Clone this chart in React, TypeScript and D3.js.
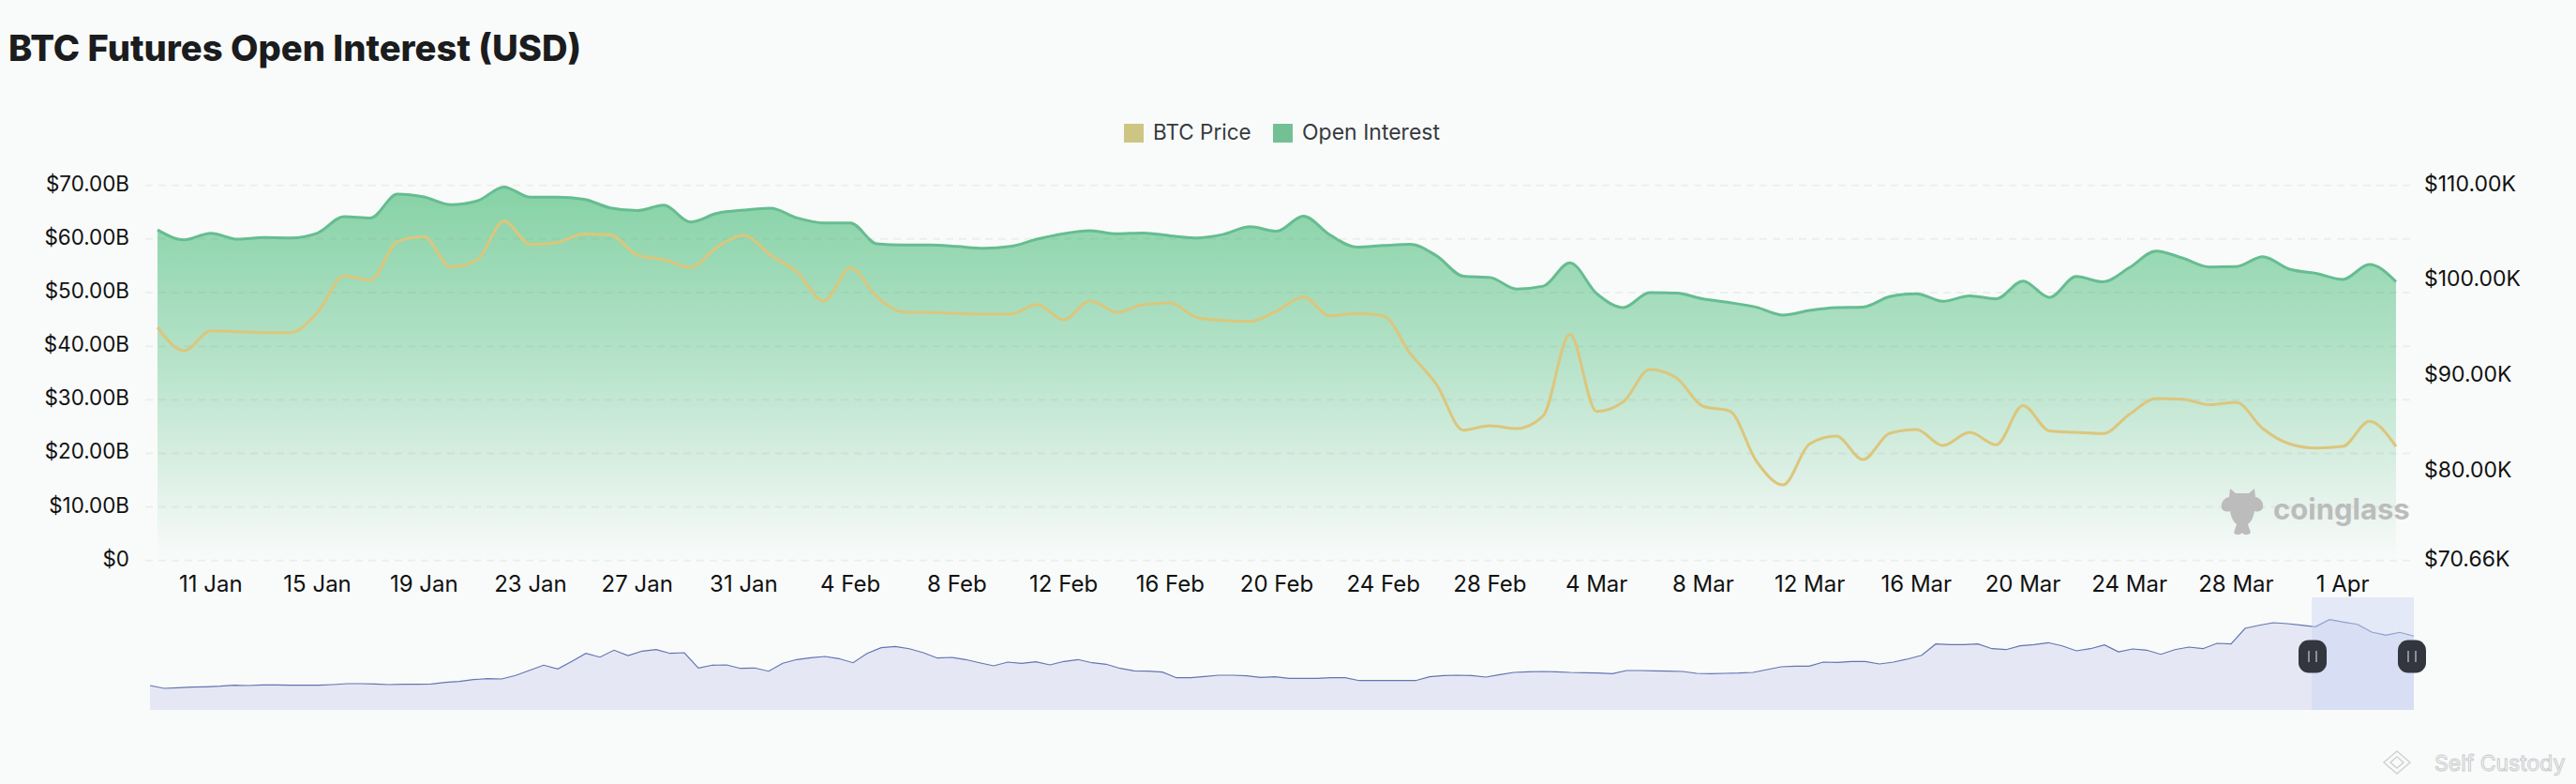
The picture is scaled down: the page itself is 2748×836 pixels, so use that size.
import * as d3 from "d3";
import React from "react";

const WIDTH = 2748;
const HEIGHT = 836;

// daily open interest in $B, 9 Jan to 3 Apr
const openInterest = [
  61.7, 59.85, 61.07, 59.96, 60.26, 60.2, 61.1, 64.17, 63.93, 68.37,
  67.84, 66.4, 67.1, 69.7, 67.8, 67.8, 67.4, 65.8, 65.3, 66.3,
  63.17, 64.8, 65.4, 65.74, 63.93, 63.0, 63.0, 59.09, 58.86, 58.86,
  58.6, 58.27, 58.6, 59.96, 61.0, 61.54, 60.96, 61.13, 60.6, 60.2,
  60.87, 62.27, 61.46, 64.26, 60.76, 58.48, 58.77, 59.0, 56.85, 53.06,
  52.82, 50.67, 51.2, 55.57, 49.85, 47.2, 50.0, 49.9, 48.8, 48.13,
  47.26, 45.8, 46.67, 47.2, 47.3, 49.24, 49.8, 48.37, 49.4, 48.83,
  52.16, 49.1, 53.0, 52.0, 54.67, 57.76, 56.42, 54.78, 54.84, 56.7,
  54.38, 53.6, 52.45, 55.25, 52.04,
];

// daily BTC price in $K
const btcPrice = [
  95.1, 92.66, 94.75, 94.66, 94.56, 94.56, 96.66, 100.5, 100.07, 104.1,
  104.6, 101.44, 102.2, 106.26, 103.8, 104.0, 104.9, 104.8, 102.7, 102.2,
  101.4, 103.54, 104.75, 102.7, 100.9, 97.87, 101.34, 98.3, 96.72, 96.69,
  96.56, 96.5, 96.5, 97.5, 95.9, 97.9, 96.7, 97.5, 97.67, 96.16,
  95.84, 95.74, 96.83, 98.3, 96.33, 96.56, 96.33, 92.4, 89.1, 84.33,
  84.8, 84.5, 85.84, 94.37, 86.3, 87.3, 90.7, 89.8, 86.83, 86.33,
  81.08, 78.59, 82.9, 83.7, 81.25, 84.0, 84.4, 82.72, 84.1, 82.8,
  86.9, 84.26, 84.1, 83.97, 86.0, 87.64, 87.57, 87.0, 87.25, 84.5,
  82.9, 82.46, 82.62, 85.25, 82.62,
];

// full history shown in the zoom strip, $B
const historyOI = [
  18.2, 16.1, 16.6, 17.0, 17.3, 17.7, 18.4, 18.2, 18.7, 18.7, 18.4, 18.4, 18.4, 18.9, 19.6, 19.6,
  19.4, 18.9, 19.1, 19.1, 19.4, 20.5, 21.2, 22.6, 23.3, 23.1, 25.7, 29.6, 33.4, 30.6, 36.2, 42.2,
  39.4, 44.6, 40.6, 43.9, 45.0, 42.2, 42.7, 31.3, 33.4, 33.6, 31.0, 31.3, 28.9, 34.8, 37.6, 39.0,
  39.9, 38.3, 35.2, 42.2, 46.4, 47.4, 45.7, 42.7, 38.7, 39.2, 37.6, 35.2, 32.9, 35.7, 34.8, 35.9,
  33.6, 36.2, 37.6, 35.2, 34.1, 31.0, 29.2, 28.9, 28.2, 24.0, 24.0, 25.0, 25.9, 25.9, 25.4, 24.3,
  24.7, 23.6, 23.6, 23.6, 24.0, 24.0, 21.9, 21.9, 21.9, 21.9, 21.9, 24.7, 25.7, 25.9, 25.7, 24.5,
  26.4, 28.0, 28.5, 28.7, 28.5, 28.0, 27.8, 27.5, 27.1, 29.4, 29.4, 29.2, 28.9, 28.7, 27.3, 27.1,
  27.3, 27.5, 28.0, 30.1, 32.2, 32.7, 32.7, 35.7, 35.5, 36.2, 36.2, 34.3, 35.7, 38.0, 40.8, 49.2,
  48.8, 48.8, 49.2, 45.7, 45.0, 47.8, 48.8, 50.2, 47.8, 44.1, 45.7, 48.5, 43.4, 45.5, 44.6, 41.5,
  45.0, 46.9, 45.7, 49.7, 49.2, 60.9, 63.2, 65.1, 64.4, 63.2, 62.1, 67.4, 65.6, 63.9, 58.1, 55.8,
  57.9, 55.1,
];

const leftTicks = [0, 10, 20, 30, 40, 50, 60, 70];
const rightTicks = [70.66, 80, 90, 100, 110];
const seriesNames = ["BTC Price", "Open Interest"];

const FONT = "Inter, sans-serif";
const BG = "#f9fbfa";

const dates = d3.utcDay.range(new Date(Date.UTC(2025, 0, 9)), new Date(Date.UTC(2025, 3, 4)));
const tickDates = dates.filter((_, i) => i >= 2 && (i - 2) % 4 === 0);
const fmtDate = d3.utcFormat("%-d %b");

const x = d3
  .scaleUtc()
  .domain([dates[0], dates[dates.length - 1]])
  .range([168, 2556]);
const yOI = d3.scaleLinear().domain([0, 70]).range([597.7, 197.7]);
const yPrice = d3.scaleLinear().domain([70.66, 110]).range([597.7, 197.7]);

const miniX = d3.scaleLinear().domain([0, historyOI.length - 1]).range([160, 2575]);
const miniY = d3.scaleLinear().domain([0, 70]).range([757, 657]);

const oiArea = d3
  .area<number>()
  .x((_, i) => x(dates[i]))
  .y0(yOI(0))
  .y1((d) => yOI(d))
  .curve(d3.curveMonotoneX);
const oiLine = d3
  .line<number>()
  .x((_, i) => x(dates[i]))
  .y((d) => yOI(d))
  .curve(d3.curveMonotoneX);
const priceLine = d3
  .line<number>()
  .x((_, i) => x(dates[i]))
  .y((d) => yPrice(d))
  .curve(d3.curveMonotoneX);
const miniArea = d3
  .area<number>()
  .x((_, i) => miniX(i))
  .y0(miniY(0))
  .y1((d) => miniY(d));
const miniLine = d3
  .line<number>()
  .x((_, i) => miniX(i))
  .y((d) => miniY(d));

function Handle({ cx }: { cx: number }) {
  return (
    <g transform={`translate(${cx},700)`}>
      <rect fill="#33363f" height={35} rx={11} width={30} x={-15} y={-17.5} />
      <rect fill="#8a8f99" height={12} width={2} x={-5} y={-6} />
      <rect fill="#8a8f99" height={12} width={2} x={3} y={-6} />
    </g>
  );
}

export default function App() {
  const windowStart = 2466;
  const windowEnd = 2575;

  return (
    <svg
      height={HEIGHT}
      style={{ left: 0, position: "absolute", top: 0 }}
      viewBox={`0 0 ${WIDTH} ${HEIGHT}`}
      width={WIDTH}
    >
      <defs>
        <linearGradient id="oiFill" x1="0" x2="0" y1="0" y2="1">
          <stop offset="0" stopColor="#86d2a6" />
          <stop offset="0.45" stopColor="#b4e2c8" />
          <stop offset="0.8" stopColor="#e0f1e8" />
          <stop offset="1" stopColor={BG} />
        </linearGradient>
      </defs>
      <rect fill={BG} height={HEIGHT} width={WIDTH} />

      <text fill="#1b1c1e" fontFamily={FONT} fontSize={38.2} fontWeight={800} x={9} y={65}>
        BTC Futures Open Interest (USD)
      </text>

      {/* legend */}
      <rect fill="#cdc584" height={20} width={21} x={1199} y={132} />
      <text fill="#363a40" fontFamily={FONT} fontSize={22.5} x={1230} y={149}>
        {seriesNames[0]}
      </text>
      <rect fill="#73c095" height={20} width={21} x={1358} y={132} />
      <text fill="#363a40" fontFamily={FONT} fontSize={23} x={1389} y={149}>
        {seriesNames[1]}
      </text>

      {/* main chart */}
      <path d={oiArea(openInterest) ?? ""} fill="url(#oiFill)" />
      {leftTicks.map((t) => (
        <line
          key={`grid-${t}`}
          stroke="#6f8f80"
          strokeDasharray="8 6"
          strokeOpacity={0.1}
          strokeWidth={2}
          x1={155}
          x2={2571}
          y1={yOI(t)}
          y2={yOI(t)}
        />
      ))}
      <path d={oiLine(openInterest) ?? ""} fill="none" stroke="#66bd90" strokeWidth={3} />
      <path d={priceLine(btcPrice) ?? ""} fill="none" stroke="#dcc67c" strokeWidth={3} />

      {leftTicks.map((t) => (
        <text
          fill="#111"
          fontFamily={FONT}
          fontSize={22.4}
          key={`l-${t}`}
          textAnchor="end"
          x={138}
          y={yOI(t) + 6}
        >
          {t === 0 ? "$0" : `$${t.toFixed(2)}B`}
        </text>
      ))}
      {rightTicks.map((t) => (
        <text
          fill="#111"
          fontFamily={FONT}
          fontSize={23}
          key={`r-${t}`}
          x={2586}
          y={yPrice(t) + 6}
        >
          {`$${t.toFixed(2)}K`}
        </text>
      ))}
      {tickDates.map((d) => (
        <text
          fill="#111"
          fontFamily={FONT}
          fontSize={24}
          key={d.toISOString()}
          textAnchor="middle"
          x={x(d)}
          y={631}
        >
          {fmtDate(d)}
        </text>
      ))}

      {/* coinglass mark */}
      <g fill="#bcbcbc">
        <path d="M2379 521 L2385 526 L2399 526 L2405 521 L2406 530 C2412 531 2415 536 2414 542 C2411 546 2408 546 2405 545 C2404 552 2401 557 2398 559 L2401 568 C2398 571 2394 571 2392 568 C2389 571 2385 571 2383 568 L2386 559 C2383 557 2380 552 2379 545 C2376 546 2372 546 2370 542 C2369 536 2372 531 2378 530 Z" />
        <text fontFamily={FONT} fontSize={31} fontWeight={700} x={2425} y={554}>
          coinglass
        </text>
      </g>

      {/* zoom strip */}
      <path d={miniArea(historyOI) ?? ""} fill="#e5e7f5" />
      <path d={miniLine(historyOI) ?? ""} fill="none" stroke="#6475b0" strokeWidth={1.2} />
      <rect
        fill="#c8d2f5"
        fillOpacity={0.45}
        height={757 - 637}
        width={windowEnd - windowStart}
        x={windowStart}
        y={637}
      />
      <Handle cx={2467} />
      <Handle cx={2573} />

      {/* exchange watermark */}
      <path
        d="M2557 801 L2571 813 L2557 825 L2543 813 Z M2557 807 L2564 813 L2557 819 L2550 813 Z"
        fill="none"
        stroke="#cfd2d3"
        strokeWidth={1.5}
      />
      <text
        fill={BG}
        fontFamily={FONT}
        fontSize={23}
        stroke="#c9ccce"
        strokeWidth={1}
        x={2597}
        y={822}
      >
        Self Custody
      </text>
    </svg>
  );
}
